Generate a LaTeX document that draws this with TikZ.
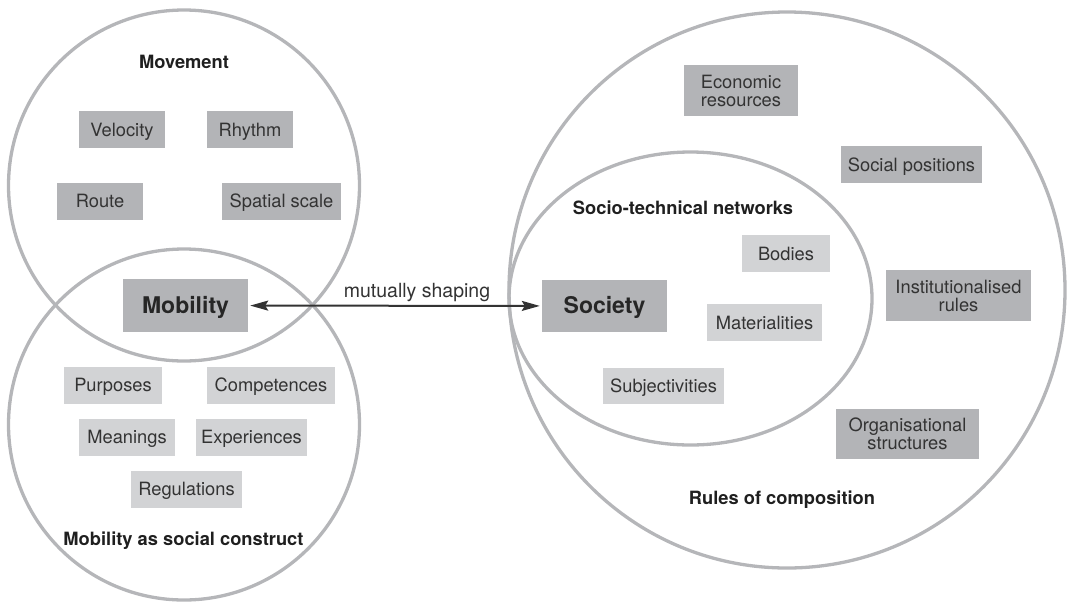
\documentclass[tikz,border=0pt]{standalone}
\usepackage{fontspec}
\setmainfont{TeX Gyre Heros}
\usetikzlibrary{arrows.meta}

\definecolor{ringgray}{HTML}{B5B6B9}
\definecolor{boxdark}{HTML}{B3B4B7}
\definecolor{boxlight}{HTML}{D2D3D5}
\definecolor{inkgray}{HTML}{333333}

\begin{document}
\begin{tikzpicture}[x=1pt, y=-1pt,
            ring/.style={draw=ringgray, line width=3.3pt},
            darkbox/.style={fill=boxdark, text=inkgray, inner sep=0pt, minimum height=37pt,
                text height=13pt, text depth=0pt, align=center, font=\fontsize{18.3}{18}\selectfont},
            lightbox/.style={darkbox, fill=boxlight},
            twoline/.style={text height={}, text depth={}, minimum height=51pt},
            keybox/.style={darkbox, minimum height=53pt, text height=15pt, text=black!85,
                font=\fontsize{23}{24}\selectfont\bfseries},
            title/.style={anchor=base, text=black!88, font=\fontsize{18.3}{20}\selectfont\bfseries}]
            \useasboundingbox (0,0) rectangle (1067,603);

            \draw[ring] (184,185.5) circle (175.5pt);
            \draw[ring] (184,424.5) circle (175.5pt);
            \draw[ring] (787,290) circle (278pt);
            \draw[ring] (690.5,298.5) ellipse (181.5pt and 146.5pt);

            \node[title] (movement) at (184,68) {Movement};
            \node[darkbox, minimum width=86pt] (velocity) at (122,129.5) {Velocity};
            \node[darkbox, minimum width=86pt] (rhythm) at (250,129.5) {Rhythm};
            \node[darkbox, minimum width=86pt] (route) at (100,201) {Route};
            \node[darkbox, minimum width=119pt] (spatial) at (281.5,201) {Spatial scale};

            \node[keybox, minimum width=125pt] (mobility) at (185.5,305.5) {Mobility};

            \node[lightbox, minimum width=98pt] (purposes) at (113,385) {Purposes};
            \node[lightbox, minimum width=128pt] (competences) at (271,385) {Competences};
            \node[lightbox, minimum width=96pt] (meanings) at (127,437) {Meanings};
            \node[lightbox, minimum width=111pt] (experiences) at (251.5,437) {Experiences};
            \node[lightbox, minimum width=111pt] (regulations) at (186.5,489) {Regulations};
            \node[title] (construct) at (183.5,545) {Mobility as social construct};

            \node[keybox, minimum width=125pt, minimum height=52pt] (society) at (604.5,306) {Society};

            \node[title] (networks) at (683,214) {Socio-technical networks};
            \node[lightbox, minimum width=88pt] (bodies) at (786,253.5) {Bodies};
            \node[lightbox, minimum width=115pt] (materialities) at (764.5,322.5) {Materialities};
            \node[lightbox, minimum width=121pt, minimum height=36pt] (subjectivities) at (663.5,386) {Subjectivities};

            \node[darkbox, twoline, minimum width=114pt] (economic) at (741,90.5) {Economic\\resources};
            \node[darkbox, minimum width=141pt] (positions) at (911.5,164.5) {Social positions};
            \node[darkbox, twoline, minimum width=145pt] (institutional) at (958.5,295.5) {Institutionalised\\rules};
            \node[darkbox, twoline, minimum width=143pt, minimum height=50pt] (organisational) at (907.5,434) {Organisational\\structures};
            \node[title] (composition) at (782,504) {Rules of composition};

            \draw[{Stealth[length=18pt,width=10pt,inset=3pt]}-{Stealth[length=18pt,width=10pt,inset=3pt]},
                draw=inkgray, fill=inkgray, line width=2pt, shorten <=2pt, shorten >=2pt] (mobility) -- (society);
            \node[anchor=base, text=inkgray, font=\fontsize{19.5}{20}\selectfont] (shaping) at (417,297.5) {mutually shaping};
        \end{tikzpicture}
\end{document}
